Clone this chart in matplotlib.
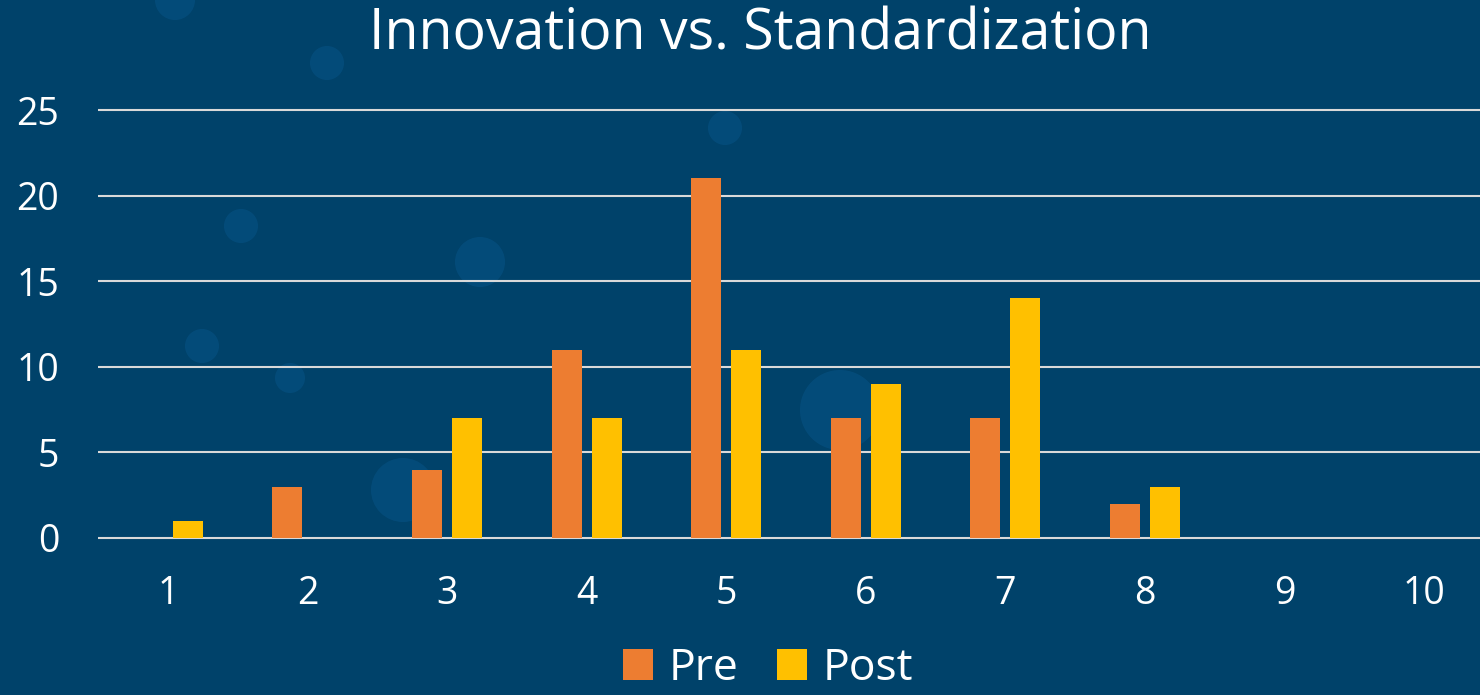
import numpy as np
import matplotlib.pyplot as plt
from matplotlib.patches import Circle, Patch

# data
categories = ["1", "2", "3", "4", "5", "6", "7", "8", "9", "10"]
pre_values = [0, 3, 4, 11, 21, 7, 7, 2, 0, 0]
post_values = [1, 0, 7, 7, 11, 9, 14, 3, 0, 0]
y_ticks = [0, 5, 10, 15, 20, 25]

BG = "#00426A"
ORANGE = "#ED7D31"
GOLD = "#FFC000"
GRID = "#D9D9D9"
FONT = "Open Sans"

fig = plt.figure(figsize=(14.8, 6.95), dpi=100)
fig.patch.set_facecolor(BG)

# faint background bokeh, in pixel coords on a backdrop axes
bg = fig.add_axes([0, 0, 1, 1], zorder=0)
bg.set_xlim(0, 1480)
bg.set_ylim(695, 0)
bg.axis("off")
for cx, cy, r in [(175, 0, 20), (327, 63, 17), (241, 226, 17), (480, 262, 25),
                  (202, 346, 17), (290, 378, 15), (725, 128, 17), (403, 490, 32),
                  (840, 410, 40)]:
    bg.add_patch(Circle((cx, cy), r, facecolor="#0A5A92", edgecolor="none", alpha=0.4))

ax = fig.add_axes([98 / 1480, 1 - 541.4 / 695, 1 - 98 / 1480, (541.4 - 106.6) / 695], zorder=1)
ax.set_facecolor("none")

x = np.arange(1, len(categories) + 1)
w = 0.215
off = 0.143
ax.bar(x - off, pre_values, width=w, color=ORANGE, zorder=3, label="Pre")
ax.bar(x + off, post_values, width=w, color=GOLD, zorder=3, label="Post")

ax.set_xlim(0.5, 10.4)
ax.set_ylim(-0.2, 25.2)
ax.set_yticks(y_ticks)
ax.set_xticks(x)
ax.set_xticklabels(categories)
for yv in y_ticks:
    ax.axhline(yv, color=GRID, lw=1.5, zorder=1)

for s in ax.spines.values():
    s.set_visible(False)
ax.tick_params(length=0, colors="white", labelsize=27)
ax.tick_params(axis="x", pad=24)
ax.tick_params(axis="y", pad=28)
for lab in ax.get_xticklabels() + ax.get_yticklabels():
    lab.set_fontfamily(FONT)

fig.text(760 / 1480, 1 - 35 / 695, "Innovation vs. Standardization", color="white",
         fontsize=40, fontfamily=FONT, ha="center", va="center")

handles = [Patch(facecolor=ORANGE), Patch(facecolor=GOLD)]
fig.legend(handles, ["Pre", "Post"], loc="center", bbox_to_anchor=(768 / 1480, 1 - 669 / 695),
           ncol=2, frameon=False, prop={"family": FONT, "size": 32},
           labelcolor="white", handlelength=0.68, handleheight=0.68,
           handletextpad=0.35, columnspacing=0.85)

fig.savefig("out.png", dpi=100, facecolor=BG)
